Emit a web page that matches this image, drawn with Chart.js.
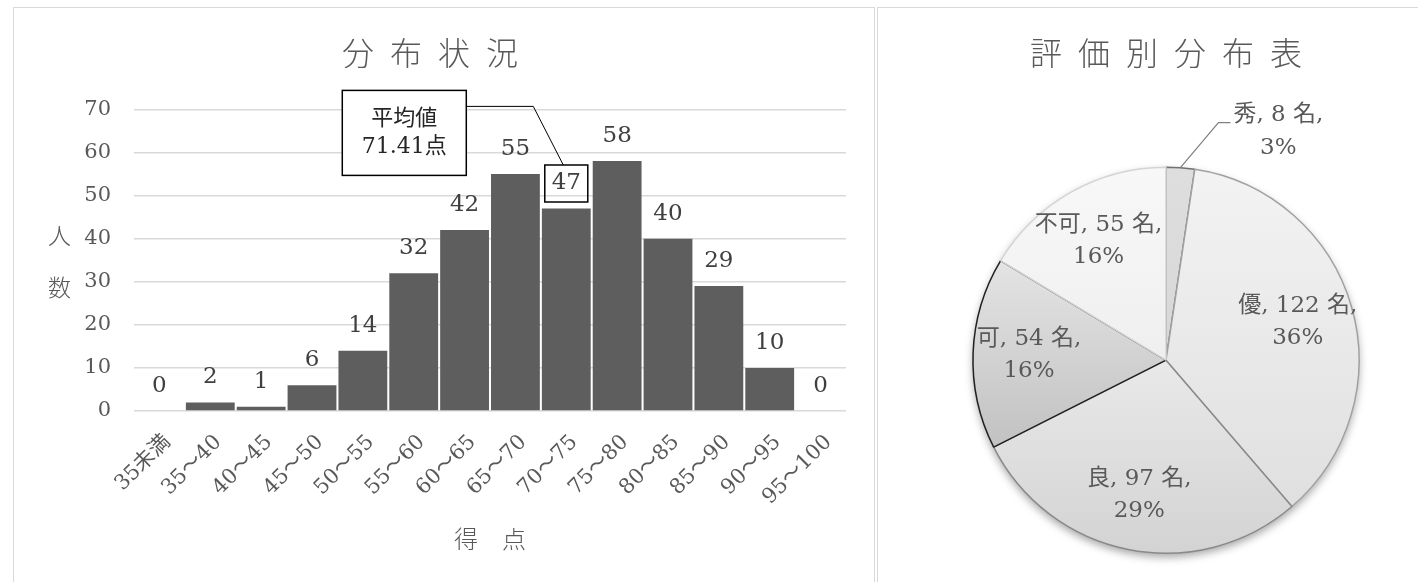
<!DOCTYPE html>
<html>
<head>
<meta charset="utf-8">
<script src="https://cdn.jsdelivr.net/npm/chart.js@4.4.1/dist/chart.umd.min.js"></script>
<style>
html, body { margin:0; padding:0; background:#fff; overflow:hidden; width:1418px; height:582px; }
.panel { position:absolute; border:1px solid #d9d9d9; box-sizing:border-box; }
#pl { left:13px; top:7px; width:862px; height:600px; }
#pr { left:877px; top:7px; width:560px; height:600px; }
canvas { position:absolute; }
#cl { left:14px; top:8px; }
#cr { left:878px; top:8px; }
</style>
</head>
<body>
<div class="panel" id="pl"></div>
<div class="panel" id="pr"></div>
<canvas id="cl" width="860" height="574"></canvas>
<canvas id="cr" width="540" height="574"></canvas>
<script>
// histogram data
const bins = ['35未満','35～40','40～45','45～50','50～55','55～60','60～65','65～70','70～75','75～80','80～85','85～90','90～95','95～100'];
const counts = [0, 2, 1, 6, 14, 32, 42, 55, 47, 58, 40, 29, 10, 0];
const yMax = 70, yStep = 10;
const meanLabel = ['平均値', '71.41点'];
const meanBin = 8; // 70～75

// grade pie data
const grades = ['秀', '優', '良', '可', '不可'];
const gradeCounts = [8, 122, 97, 54, 55];
const gradePcts = [3, 36, 29, 16, 16];

const SERIF = '"DejaVu Serif", "Noto Sans CJK JP", serif';
const CJK = '"Noto Sans CJK JP", sans-serif';
const gradeTop = ['#dedede', '#f3f3f3', '#ffffff', '#f5f5f5', '#f8f8f8'];
const gradeBottom = ['#d0d0d0', '#dddddd', '#d3d3d3', '#aeaeae', '#e6e6e6'];
const gradeBorder = ['#707070', '#a0a0a0', '#8a8a8a', '#202020', '#d4d4d4'];

const barLabels = {
  id: 'barLabels',
  afterDatasetsDraw(chart) {
    const ctx = chart.ctx;
    const meta = chart.getDatasetMeta(0);
    const area = chart.chartArea;
    ctx.save();
    ctx.font = '23px ' + SERIF;
    ctx.fillStyle = '#404040';
    ctx.textAlign = 'center';
    ctx.textBaseline = 'middle';
    meta.data.forEach((bar, i) => {
      ctx.fillText(String(counts[i]), bar.x, bar.y - 25);
    });
    // boxed label + mean callout
    const b = meta.data[meanBin];
    const ly = b.y - 25;
    ctx.strokeStyle = '#000';
    ctx.lineWidth = 1.5;
    ctx.strokeRect(b.x - 21.5, ly - 18.5, 43, 37);
    const bx = b.x - 224, bw = 124, by = area.top - 19, bh = 85;
    ctx.fillStyle = '#fff';
    ctx.fillRect(bx, by, bw, bh);
    ctx.strokeRect(bx, by, bw, bh);
    ctx.lineWidth = 1;
    ctx.beginPath();
    ctx.moveTo(bx + bw, by + 16);
    ctx.lineTo(b.x - 33, by + 16);
    ctx.lineTo(b.x - 3, ly - 18.5);
    ctx.stroke();
    ctx.fillStyle = '#262626';
    ctx.font = '22px ' + SERIF;
    ctx.fillText(meanLabel[0], bx + bw / 2, by + bh / 2 - 14);
    ctx.fillText(meanLabel[1], bx + bw / 2, by + bh / 2 + 14);
    // vertical y title
    ctx.fillStyle = '#595959';
    ctx.font = '300 23px ' + CJK;
    const mid = (area.top + area.bottom) / 2 + 1.5;
    ctx.fillText('人', area.left - 74.5, mid - 26);
    ctx.fillText('数', area.left - 74.5, mid + 26);
    ctx.restore();
  }
};

new Chart(document.getElementById('cl'), {
  type: 'bar',
  data: {
    labels: bins,
    datasets: [{ data: counts, backgroundColor: '#5e5e5e', barPercentage: 0.96, categoryPercentage: 1 }]
  },
  options: {
    responsive: false,
    animation: false,
    layout: { padding: { left: 0, right: 28, top: 0, bottom: 0 } },
    plugins: {
      legend: { display: false },
      tooltip: { enabled: false },
      title: {
        display: true,
        text: '分\u2002布\u2002状\u2002況',
        color: '#595959',
        font: { family: CJK, size: 32, weight: '300' },
        padding: { top: 26, bottom: 37 }
      }
    },
    scales: {
      x: {
        grid: { display: false },
        border: { display: false },
        ticks: { color: '#595959', font: { family: SERIF, size: 21 }, minRotation: 45, maxRotation: 45, padding: 11, labelOffset: 8, autoSkip: false },
        title: { display: true, text: '得　点', color: '#595959', font: { family: CJK, size: 24, weight: '300' }, padding: { top: 0, bottom: 29 } },
        afterFit(s) { s.height = 171; }
      },
      y: {
        min: 0,
        max: yMax,
        ticks: { stepSize: yStep, color: '#595959', font: { family: SERIF, size: 21 }, padding: 23 },
        grid: { color: '#d9d9d9', lineWidth: 1.5, drawTicks: false },
        border: { display: false },
        afterFit(s) { s.width = 120; }
      }
    }
  },
  plugins: [barLabels]
});

const pieShadow = {
  id: 'pieShadow',
  beforeDatasetsDraw(chart) {
    const arc = chart.getDatasetMeta(0).data[0];
    if (!arc) return;
    const ctx = chart.ctx;
    ctx.save();
    ctx.shadowColor = 'rgba(0,0,0,0.35)';
    ctx.shadowBlur = 9;
    ctx.shadowOffsetY = 4;
    ctx.fillStyle = '#fff';
    ctx.beginPath();
    ctx.arc(arc.x, arc.y, arc.outerRadius, 0, Math.PI * 2);
    ctx.fill();
    ctx.restore();
  }
};

const pieLabels = {
  id: 'pieLabels',
  afterDatasetsDraw(chart) {
    const ctx = chart.ctx;
    const meta = chart.getDatasetMeta(0);
    ctx.save();
    ctx.font = '23px ' + SERIF;
    ctx.fillStyle = '#595959';
    ctx.textAlign = 'center';
    ctx.textBaseline = 'middle';
    meta.data.forEach((arc, i) => {
      const mid = (arc.startAngle + arc.endAngle) / 2;
      const R = arc.outerRadius;
      const l1 = grades[i] + ', ' + gradeCounts[i] + ' 名,';
      const l2 = gradePcts[i] + '%';
      if (i === 0) {
        const p0x = arc.x + Math.cos(mid) * R, p0y = arc.y + Math.sin(mid) * R;
        const p1x = p0x + 38, p1y = p0y - 45;
        const p2x = p1x + 12;
        ctx.strokeStyle = '#808080';
        ctx.lineWidth = 1.2;
        ctx.beginPath();
        ctx.moveTo(p0x, p0y);
        ctx.lineTo(p1x, p1y);
        ctx.lineTo(p2x, p1y);
        ctx.stroke();
        const cx = p2x + 3 + ctx.measureText(l1).width / 2;
        ctx.fillText(l1, cx, p1y - 8);
        ctx.fillText(l2, cx, p1y + 25);
      } else {
        const r = R * 0.71;
        const cx = arc.x + Math.cos(mid) * r, cy = arc.y + Math.sin(mid) * r;
        ctx.fillText(l1, cx, cy - 16);
        ctx.fillText(l2, cx, cy + 16);
      }
    });
    ctx.restore();
  }
};

new Chart(document.getElementById('cr'), {
  type: 'pie',
  data: {
    labels: grades,
    datasets: [{
      data: gradeCounts,
      backgroundColor(c) {
        const a = c.chart.chartArea;
        if (!a) return gradeTop[c.dataIndex];
        const g = c.chart.ctx.createLinearGradient(0, a.top, 0, a.bottom);
        g.addColorStop(0, gradeTop[c.dataIndex]);
        g.addColorStop(1, gradeBottom[c.dataIndex]);
        return g;
      },
      borderColor: gradeBorder,
      borderWidth: 1.5
    }]
  },
  options: {
    responsive: false,
    animation: false,
    layout: { padding: { left: 36, right: 0, top: 0, bottom: 28 } },
    plugins: {
      legend: { display: false },
      tooltip: { enabled: false },
      title: {
        display: true,
        text: '評\u2002価\u2002別\u2002分\u2002布\u2002表',
        color: '#595959',
        font: { family: CJK, size: 32, weight: '300' },
        padding: { top: 26, bottom: 94 }
      }
    }
  },
  plugins: [pieShadow, pieLabels]
});
</script>
</body>
</html>
